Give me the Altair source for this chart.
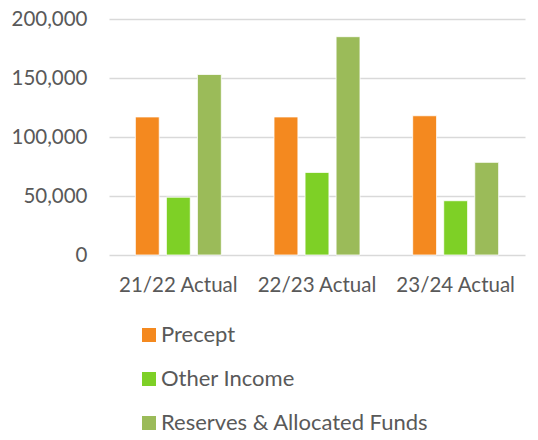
import altair as alt
import pandas as pd

years = ["21/22 Actual", "22/23 Actual", "23/24 Actual"]
series = ["Precept", "Other Income", "Reserves & Allocated Funds"]
precept = [117000, 117000, 118000]
other_income = [49000, 70000, 46000]
reserves = [153000, 185000, 78500]
colors = ["#F4891F", "#7ED026", "#9BBB59"]

rows = []
for i, y in enumerate(years):
    for s, vals in zip(series, [precept, other_income, reserves]):
        rows.append({"year": y, "series": s, "value": vals[i]})
df = pd.DataFrame(rows)

FONT = "Lato"
GREY = "#595959"

chart = alt.Chart(df).mark_bar(stroke="white", strokeWidth=0.8).encode(
    x=alt.X("year:N", sort=years, title=None,
            scale=alt.Scale(paddingInner=0.38, paddingOuter=0.19),
            axis=alt.Axis(labelAngle=0, labelFontSize=20.5, labelColor=GREY, labelFont=FONT,
                          ticks=False, domain=False, labelPadding=20, labelLimit=0)),
    xOffset=alt.XOffset("series:N", sort=series, scale=alt.Scale(paddingInner=0.23, paddingOuter=0)),
    y=alt.Y("value:Q", title=None,
            scale=alt.Scale(domain=[0, 200000], nice=False),
            axis=alt.Axis(values=[0, 50000, 100000, 150000, 200000], format=",.0f", labelFontSize=20.5,
                          labelColor=GREY, labelFont=FONT, ticks=False, domain=False,
                          labelPadding=22, gridColor="#D9D9D9", gridWidth=1.5)),
    color=alt.Color("series:N", sort=series, title=None,
                    scale=alt.Scale(domain=series, range=colors),
                    legend=alt.Legend(orient="none", legendX=29, legendY=305, direction="vertical",
                                      symbolType="square", symbolSize=196, symbolStrokeWidth=0,
                                      labelFontSize=22, labelColor=GREY, labelFont=FONT,
                                      rowPadding=22, labelOffset=1, labelLimit=0)),
).properties(
    width=416, height=236,
    autosize=alt.AutoSizeParams(type="none"),
    padding={"left": 101, "top": 11, "right": 5, "bottom": 177},
).configure_view(stroke=None)

chart.save("out.html", embed_options={"renderer": "svg", "actions": False})
